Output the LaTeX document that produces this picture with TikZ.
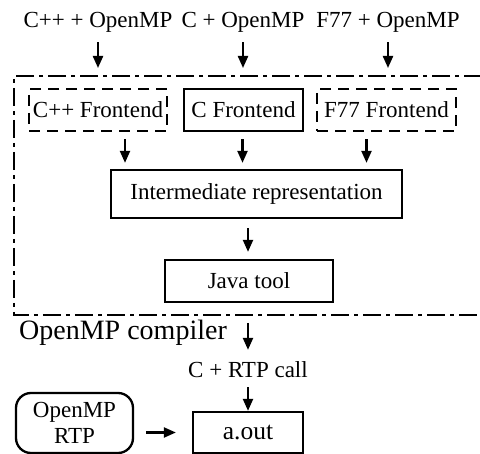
\documentclass[tikz,border=0pt]{standalone}
\usepackage{fontspec}
\setmainfont{Liberation Serif}
\usetikzlibrary{arrows.meta}
\begin{document}
\begin{tikzpicture}[x=1pt,y=-1pt,
  every node/.style={font=\fontsize{23}{26}\selectfont, inner sep=0pt},
  box/.style={draw, line width=2.3pt},
  dbox/.style={draw, line width=2.3pt, dash pattern=on 11pt off 7pt},
  arr/.style={line width=2.2pt, -{Triangle[length=12pt,width=10pt]}},
  dashdot/.style={line width=2.3pt, dash pattern=on 18pt off 5pt on 4pt off 5pt}
  ]
\useasboundingbox (0,0) rectangle (480,454);
% top labels
\node[anchor=base] (l1) at (98,28) {C++ + OpenMP};
\node[anchor=base] (l2) at (243,28) {C + OpenMP};
\node[anchor=base] (l3) at (388,28) {F77 + OpenMP};
\coordinate (t1) at (98,68);
\coordinate (t2) at (243,68);
\coordinate (t3) at (388,68);
\draw[arr, shorten <=9pt] (l1.south) -- (t1);
\draw[arr, shorten <=9pt] (l2.south) -- (t2);
\draw[arr, shorten <=9pt] (l3.south) -- (t3);
% outer compiler box
\draw[dashdot] (482,76) -- (14,76) -- (14,315) -- (482,315);
% frontends
\node[dbox, minimum width=138pt, minimum height=42pt] (cpp) at (98,110) {C++ Frontend};
\node[box, minimum width=119pt, minimum height=42pt] (cfe) at (243.5,110) {C Frontend};
\node[dbox, minimum width=139pt, minimum height=42pt] (ffe) at (386.5,110) {F77 Frontend};
% intermediate representation
\node[box, minimum width=291pt, minimum height=48pt] (ir) at (256.5,194) {Intermediate representation};
\node[box, minimum width=168pt, minimum height=42pt] (java) at (249,281) {Java tool};
\draw[arr, shorten <=7pt, shorten >=6pt] ([xshift=27pt]cpp.south) -- ([xshift=27pt]cpp.south |- ir.north);
\draw[arr, shorten <=7pt, shorten >=6pt] ([xshift=-1pt]cfe.south) -- ([xshift=-1pt]cfe.south |- ir.north);
\draw[arr, shorten <=7pt, shorten >=6pt] ([xshift=-20pt]ffe.south) -- ([xshift=-20pt]ffe.south |- ir.north);
\draw[arr, shorten <=9pt, shorten >=7pt] ([xshift=-1pt]java.north |- ir.south) -- ([xshift=-1pt]java.north);
% below compiler
\node[anchor=base west, font=\fontsize{28}{31}\selectfont] (comp) at (19,340) {OpenMP compiler};
\coordinate (ob) at (248,315);
\node[anchor=base] (rtpc) at (248,378) {C + RTP call};
\draw[arr, shorten <=8pt, shorten >=12pt] (ob) -- (ob |- rtpc.north);
\node[box, minimum width=110pt, minimum height=41pt, font=\fontsize{25.5}{28}\selectfont] (aout) at (248,432.5) {a.out};
\node[box, rounded corners=15pt, minimum width=117pt, minimum height=60pt, align=center] (rtp) at (74.5,423) {OpenMP\\RTP};
\draw[arr, shorten <=9pt] (rtpc.south) -- (aout.north);
\draw[arr, shorten <=12pt, shorten >=16pt] (rtp.east |- aout.west) -- (aout.west);
\end{tikzpicture}
\end{document}
